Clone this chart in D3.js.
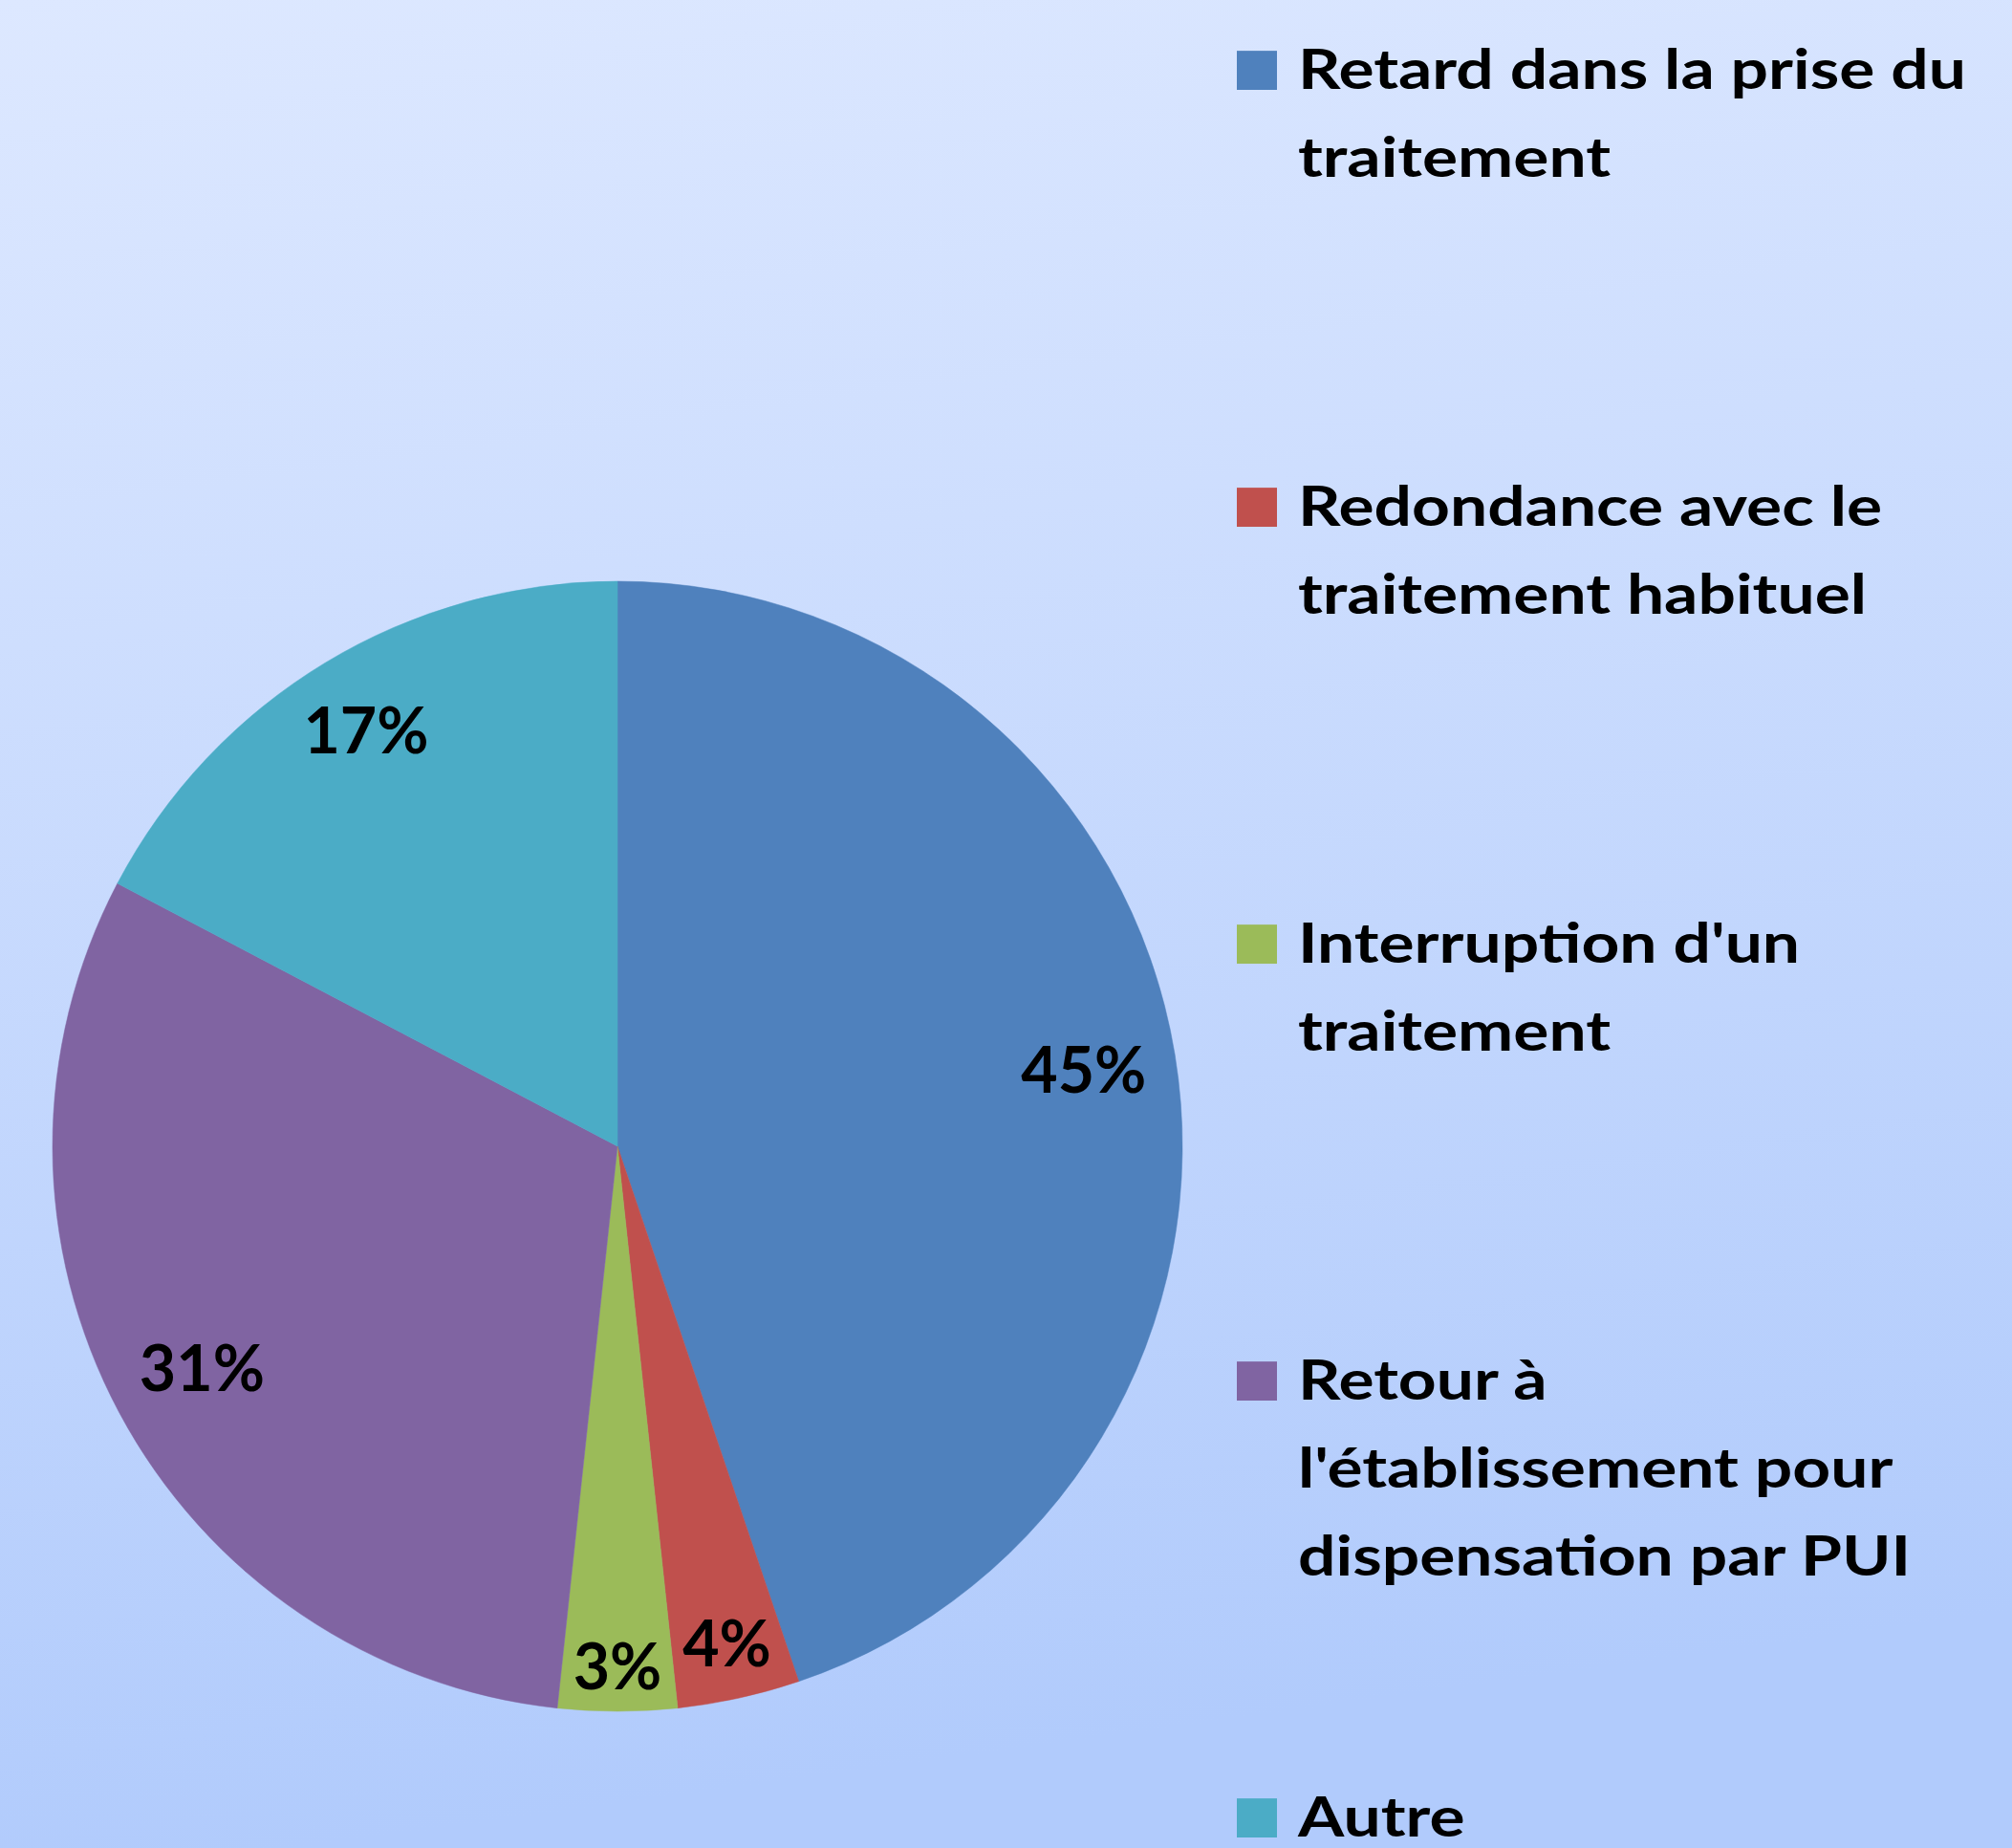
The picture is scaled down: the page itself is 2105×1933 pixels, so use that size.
<!DOCTYPE html>
<html>
<head>
<meta charset="utf-8">
<script src="https://cdn.jsdelivr.net/npm/d3@7"></script>
<style>
  body { margin: 0; background: #fff; }
  svg { display: block; }
</style>
</head>
<body>
<script>
// chart data
var categories = [
    "Retard dans la prise du\ntraitement",
    "Redondance avec le\ntraitement habituel",
    "Interruption d'un\ntraitement",
    "Retour à\nl'établissement pour\ndispensation par PUI",
    "Autre"
];
var values = [44.8, 3.5, 3.4, 31.0, 17.3];
var colors = ["#4f81bd", "#c0504d", "#9bbb59", "#8064a2", "#4bacc6"];

var W = 2105, H = 1933;
var cx = 646, cy = 1199, radius = 591;
var fontFam = "Lato, 'Open Sans', 'DejaVu Sans', sans-serif";

var svg = d3.select("body").append("svg")
    .attr("width", W)
    .attr("height", H);

// background gradient
var grad = svg.append("defs").append("linearGradient")
    .attr("id", "bg")
    .attr("x1", 0).attr("y1", 0)
    .attr("x2", 0.15).attr("y2", 1);
grad.append("stop").attr("offset", "0%").attr("stop-color", "#dde8ff");
grad.append("stop").attr("offset", "100%").attr("stop-color", "#b1cbfc");

svg.append("rect")
    .attr("width", W)
    .attr("height", H)
    .attr("fill", "url(#bg)");

var total = d3.sum(values);
var data = values.map(function (v, i) {
    return {name: categories[i], value: v, color: colors[i]};
});

var pie = d3.pie()
    .value(function (d) { return d.value; })
    .sort(null);

var arc = d3.arc()
    .innerRadius(0)
    .outerRadius(radius);

var g = svg.append("g")
    .attr("transform", "translate(" + cx + "," + cy + ")");

var arcs = pie(data);

g.selectAll("path.slice")
    .data(arcs)
    .enter()
    .append("path")
    .attr("class", "slice")
    .attr("d", arc)
    .attr("fill", function (d) { return d.data.color; })
    .attr("stroke", function (d) { return d.data.color; })
    .attr("stroke-width", 0.5);

// measure font condensation so Lato reads as wide as the original narrow font
var probe = svg.append("text")
    .attr("font-family", fontFam)
    .attr("font-weight", "bold")
    .attr("font-size", 57)
    .text("Retard dans la prise du");
var sx = 699 / probe.node().getComputedTextLength();
probe.remove();
var labSx = sx * 0.81;

// data labels, placed inside end of each slice
var labelSize = 67;
var pad = 15, boxMargin = 12;
var labels = g.selectAll("g.lab")
    .data(arcs)
    .enter()
    .append("g")
    .attr("class", "lab");

labels.append("text")
    .attr("font-family", fontFam)
    .attr("font-weight", "bold")
    .attr("font-size", labelSize)
    .attr("fill", "#000")
    .attr("text-anchor", "middle")
    .attr("transform", "scale(" + labSx + ",1)")
    .attr("y", labelSize * 0.717 / 2)
    .text(function (d) { return Math.round(d.data.value / total * 100) + "%"; });

labels.attr("transform", function (d) {
    var t = d3.select(this).select("text").node();
    var w = t.getComputedTextLength() * labSx + 2 * boxMargin;
    var h = labelSize * 0.95;
    var a = (d.startAngle + d.endAngle) / 2;
    var ext = Math.abs(Math.sin(a)) * w / 2 + Math.abs(Math.cos(a)) * h / 2;
    var rr = radius - pad - ext;
    var c = d3.arc().innerRadius(rr).outerRadius(rr).centroid(d);
    return "translate(" + c[0] + "," + c[1] + ")";
});

// legend
var legX = 1294, legTop = 93, legStep = 457, lineH = 92, legSize = 57;
var capH = legSize * 0.717;

var leg = svg.selectAll("g.legend")
    .data(data)
    .enter()
    .append("g")
    .attr("class", "legend")
    .attr("transform", function (d, i) {
        return "translate(" + legX + "," + (legTop + i * legStep) + ")";
    });

leg.append("rect")
    .attr("x", 0)
    .attr("y", -capH + 1)
    .attr("width", 42)
    .attr("height", capH)
    .attr("fill", function (d) { return d.color; });

leg.append("text")
    .attr("font-family", fontFam)
    .attr("font-weight", "bold")
    .attr("font-size", legSize)
    .attr("fill", "#000")
    .attr("transform", "translate(64,0) scale(" + sx + ",1)")
    .selectAll("tspan")
    .data(function (d) { return d.name.split("\n"); })
    .enter()
    .append("tspan")
    .attr("x", 0)
    .attr("y", function (d, i) { return i * lineH; })
    .text(function (d) { return d; });
</script>
</body>
</html>
